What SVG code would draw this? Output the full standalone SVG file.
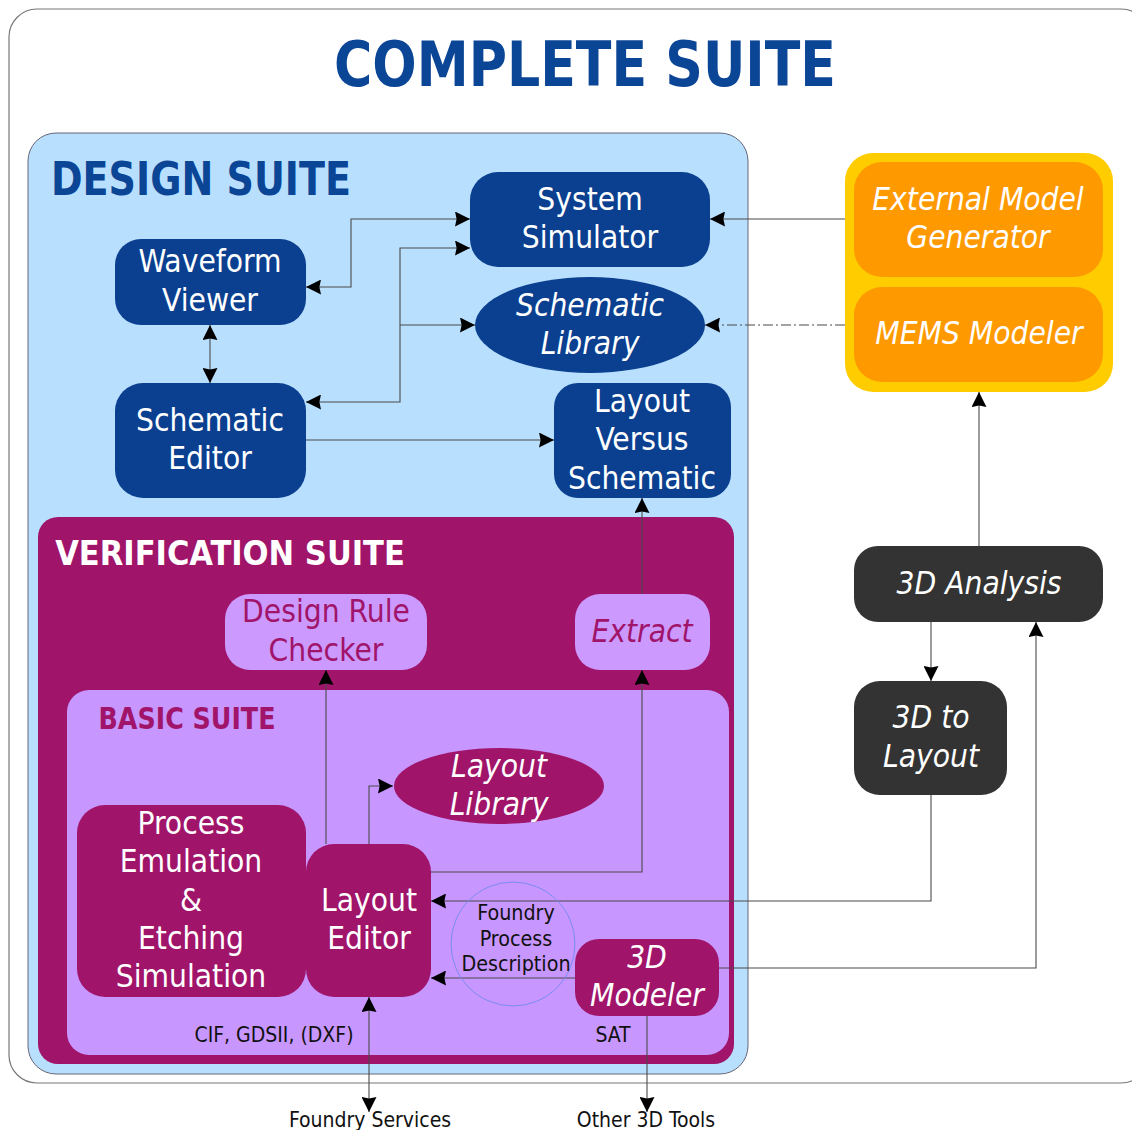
<svg xmlns="http://www.w3.org/2000/svg" width="1132" height="1130" viewBox="0 0 1132 1130">
<style>
text{font-family:"DejaVu Sans Condensed","DejaVu Sans","Liberation Sans",sans-serif;text-anchor:middle}
.t{font-size:31.4px;fill:#fff}
.i{font-style:italic}
.h{font-weight:bold}
.p{fill:#a0146a}
.s{font-size:21px;fill:#111}
.f{font-size:21.3px;fill:#111}
.n{fill:#0b3f90}
.m{fill:#a0146a}
.d{fill:#333}
.o{fill:#ff9900}
.c{fill:none;stroke:#4a4a4a;stroke-width:1.1}
</style>
<defs>
<marker id="a" viewBox="0 0 14 14" refX="14" refY="7" markerWidth="15" markerHeight="15" markerUnits="userSpaceOnUse" orient="auto-start-reverse"><path d="M0 0L14 7L0 14L1.5 7z" fill="#000"/></marker>
</defs>
<rect width="1132" height="1130" fill="#fff"/>
<g id="complete-suite">
<rect x="9" y="9" width="1140" height="1074" rx="28" fill="#fff" stroke="#777" stroke-width="1.2"/>
<text x="585" y="86" class="h" font-size="63" fill="#0b4596" textLength="502" lengthAdjust="spacingAndGlyphs">COMPLETE SUITE</text>
</g>
<g id="design-suite">
<rect x="28" y="133" width="720" height="941" rx="28" fill="#b8dffe" stroke="#667" stroke-width="1"/>
<text x="201" y="195" class="h" font-size="47" fill="#0b4596" textLength="300" lengthAdjust="spacingAndGlyphs">DESIGN SUITE</text>
</g>
<g id="verification-suite">
<rect x="38" y="517" width="696" height="547" rx="20" class="m"/>
<text x="230" y="565" class="h" font-size="34" fill="#fff">VERIFICATION SUITE</text>
</g>
<g id="basic-suite">
<rect x="67" y="690" width="662" height="365" rx="22" fill="#c896ff"/>
<text x="187" y="729" class="h" font-size="31" fill="#a0146a" textLength="177" lengthAdjust="spacingAndGlyphs">BASIC SUITE</text>
</g>
<g id="connectors">
<path class="c" d="M845 219H710" marker-end="url(#a)"/>
<path class="c" d="M845 325H705" stroke-dasharray="10 3 2 3" stroke-width="0.9" marker-end="url(#a)"/>
<path class="c" d="M470 219H351V287H306" marker-start="url(#a)" marker-end="url(#a)"/>
<path class="c" d="M470 248H400V402H306" marker-start="url(#a)" marker-end="url(#a)"/>
<path class="c" d="M400 325H475" marker-end="url(#a)"/>
<path class="c" d="M210 325V383" marker-start="url(#a)" marker-end="url(#a)"/>
<path class="c" d="M306 440H554" marker-end="url(#a)"/>
<path class="c" d="M642 594V498" marker-end="url(#a)"/>
<path class="c" d="M431 872H642V670" marker-end="url(#a)"/>
<path class="c" d="M326 844V670" marker-end="url(#a)"/>
<path class="c" d="M369 844V786H393" marker-end="url(#a)"/>
<path class="c" d="M931 795V901H431" marker-end="url(#a)"/>
<path class="c" d="M575 978H431" marker-end="url(#a)"/>
<path class="c" d="M719 968H1036V622" marker-end="url(#a)"/>
<path class="c" d="M931 622V681" marker-end="url(#a)"/>
<path class="c" d="M979 546V392" marker-end="url(#a)"/>
<path class="c" d="M369 997V1112" marker-start="url(#a)" marker-end="url(#a)"/>
<path class="c" d="M647 1016V1112" marker-end="url(#a)"/>
</g>
<g id="system-simulator"><rect x="470" y="172" width="240" height="95" rx="28" class="n"/><text x="590" y="210" class="t">System</text><text x="590" y="248" class="t">Simulator</text></g>
<g id="waveform-viewer"><rect x="115" y="239" width="191" height="86" rx="26" class="n"/><text x="210" y="272" class="t">Waveform</text><text x="210" y="311" class="t">Viewer</text></g>
<g id="schematic-library"><ellipse cx="590" cy="325" rx="115" ry="48" class="n"/><text x="590" y="316" class="t i">Schematic</text><text x="590" y="354" class="t i">Library</text></g>
<g id="schematic-editor"><rect x="115" y="383" width="191" height="115" rx="28" class="n"/><text x="210" y="431" class="t">Schematic</text><text x="210" y="469" class="t">Editor</text></g>
<g id="layout-versus-schematic"><rect x="554" y="383" width="177" height="115" rx="24" class="n"/><text x="642" y="412" class="t">Layout</text><text x="642" y="450" class="t">Versus</text><text x="642" y="489" class="t">Schematic</text></g>
<g id="design-rule-checker"><rect x="225" y="594" width="202" height="76" rx="25" fill="#cc99ff"/><text x="326" y="622" class="t p">Design Rule</text><text x="326" y="661" class="t p">Checker</text></g>
<g id="extract"><rect x="575" y="594" width="135" height="76" rx="25" fill="#cc99ff"/><text x="642" y="642" class="t i p">Extract</text></g>
<g id="layout-library"><ellipse cx="499" cy="786" rx="105" ry="38" class="m"/><text x="499" y="777" class="t i">Layout</text><text x="499" y="815" class="t i">Library</text></g>
<g id="process-emulation"><rect x="77" y="805" width="229" height="192" rx="28" class="m"/><text x="191" y="834" class="t">Process</text><text x="191" y="872" class="t">Emulation</text><text x="191" y="911" class="t">&amp;</text><text x="191" y="949" class="t">Etching</text><text x="191" y="987" class="t">Simulation</text></g>
<g id="layout-editor"><rect x="306" y="844" width="125" height="153" rx="28" class="m"/><text x="369" y="911" class="t">Layout</text><text x="369" y="949" class="t">Editor</text></g>
<g id="foundry-process"><ellipse cx="513" cy="944" rx="62" ry="62" fill="none" stroke="#7a8cf0" stroke-width="1"/><text x="516" y="920" class="f">Foundry</text><text x="516" y="946" class="f">Process</text><text x="516" y="971" class="f">Description</text></g>
<g id="modeler-3d"><rect x="575" y="939" width="144" height="77" rx="24" class="m"/><text x="647" y="968" class="t i">3D</text><text x="647" y="1006" class="t i">Modeler</text></g>
<g id="external-group"><rect x="845" y="153" width="268" height="239" rx="28" fill="#ffcc00"/></g>
<g id="external-model"><rect x="854" y="162" width="249" height="115" rx="28" class="o"/><text x="978" y="210" class="t i">External Model</text><text x="978" y="248" class="t i">Generator</text></g>
<g id="mems-modeler"><rect x="854" y="287" width="249" height="95" rx="28" class="o"/><text x="979" y="344" class="t i">MEMS Modeler</text></g>
<g id="analysis-3d"><rect x="854" y="546" width="249" height="76" rx="24" class="d"/><text x="979" y="594" class="t i">3D Analysis</text></g>
<g id="layout-3d"><rect x="854" y="681" width="153" height="114" rx="26" class="d"/><text x="931" y="728" class="t i">3D to</text><text x="931" y="767" class="t i">Layout</text></g>
<g id="labels"><text x="274" y="1042" class="s">CIF, GDSII, (DXF)</text><text x="613" y="1042" class="s">SAT</text><text x="370" y="1127" class="s">Foundry Services</text><text x="646" y="1127" class="s">Other 3D Tools</text></g>
</svg>
